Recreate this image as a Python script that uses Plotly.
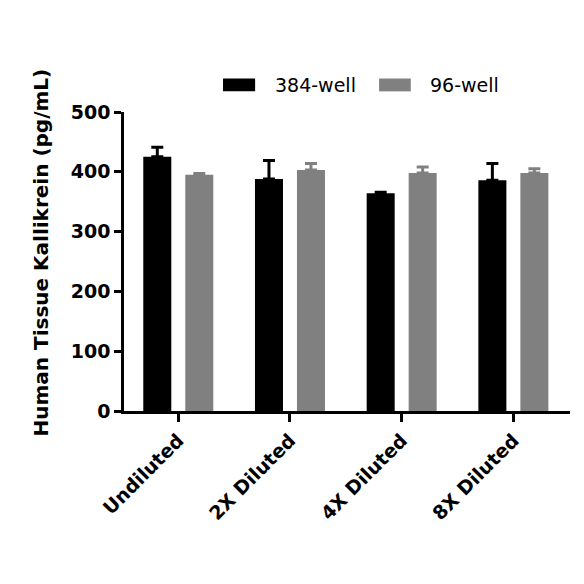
import plotly.graph_objects as go

categories = ["Undiluted", "2X Diluted", "4X Diluted", "8X Diluted"]
well384 = [425, 388, 364, 386]
well384_err = [16, 31, 2, 28]
well96 = [395, 403, 398, 398]
well96_err = [2, 11, 10, 7]
y_ticks = [0, 100, 200, 300, 400, 500]
series_names = ["384-well", "96-well"]
series_colors = ["#000000", "#808080"]
y_title = "Human Tissue Kallikrein (pg/mL)"

fig = go.Figure()
for name, vals, errs, col in zip(series_names, [well384, well96], [well384_err, well96_err], series_colors):
    fig.add_trace(go.Bar(
        x=categories, y=vals, name=name,
        marker=dict(color=col, line=dict(width=0)),
        error_y=dict(type="data", array=errs, arrayminus=[0]*len(errs), symmetric=False,
                     color=col, thickness=3, width=6),
    ))

font_family = "DejaVu Sans, sans-serif"

# custom legend (wide rectangular swatches like the reference)
legend_layout = [(0.222, 0.294, 0.334), (0.572, 0.643, 0.682)]
for (x0, x1, xt), name, col in zip(legend_layout, series_names, series_colors):
    fig.add_shape(type="rect", xref="paper", yref="paper", x0=x0, x1=x1, y0=1.069, y1=1.112,
                  fillcolor=col, line=dict(width=0))
    fig.add_annotation(xref="paper", yref="paper", x=xt, y=1.09, text=name, showarrow=False,
                       xanchor="left", yanchor="middle",
                       font=dict(family=font_family, size=19, color="black"))

# y-axis title as annotation (slightly above plot centre, like the reference)
fig.add_annotation(xref="paper", yref="paper", x=0, y=0.53, xshift=-83, text=y_title,
                   textangle=-90, showarrow=False, xanchor="center", yanchor="middle",
                   font=dict(family=font_family, size=20, color="black", weight="bold"))

fig.update_layout(
    width=576, height=576,
    margin=dict(l=116, r=14, t=104, b=173),
    paper_bgcolor="white", plot_bgcolor="white",
    barmode="group", bargap=0.248, bargroupgap=0.333,
    showlegend=False,
    font=dict(family=font_family, color="black"),
)
fig.update_xaxes(
    type="category", range=[-0.486, 3.507],
    showline=True, linecolor="black", linewidth=2.5,
    ticks="outside", ticklen=8, tickwidth=2.5, tickcolor="black",
    tickangle=-45, tickfont=dict(family=font_family, size=19, color="black", weight="bold"),
    showgrid=False, zeroline=False,
)
fig.update_yaxes(
    range=[0, 500], tickvals=y_ticks, ticktext=[str(v) for v in y_ticks],
    showline=True, linecolor="black", linewidth=2.5,
    ticks="outside", ticklen=7, tickwidth=2.5, tickcolor="black",
    tickfont=dict(family=font_family, size=19, color="black", weight="bold"),
    showgrid=False, zeroline=False,
)
fig.write_html("out.html")
